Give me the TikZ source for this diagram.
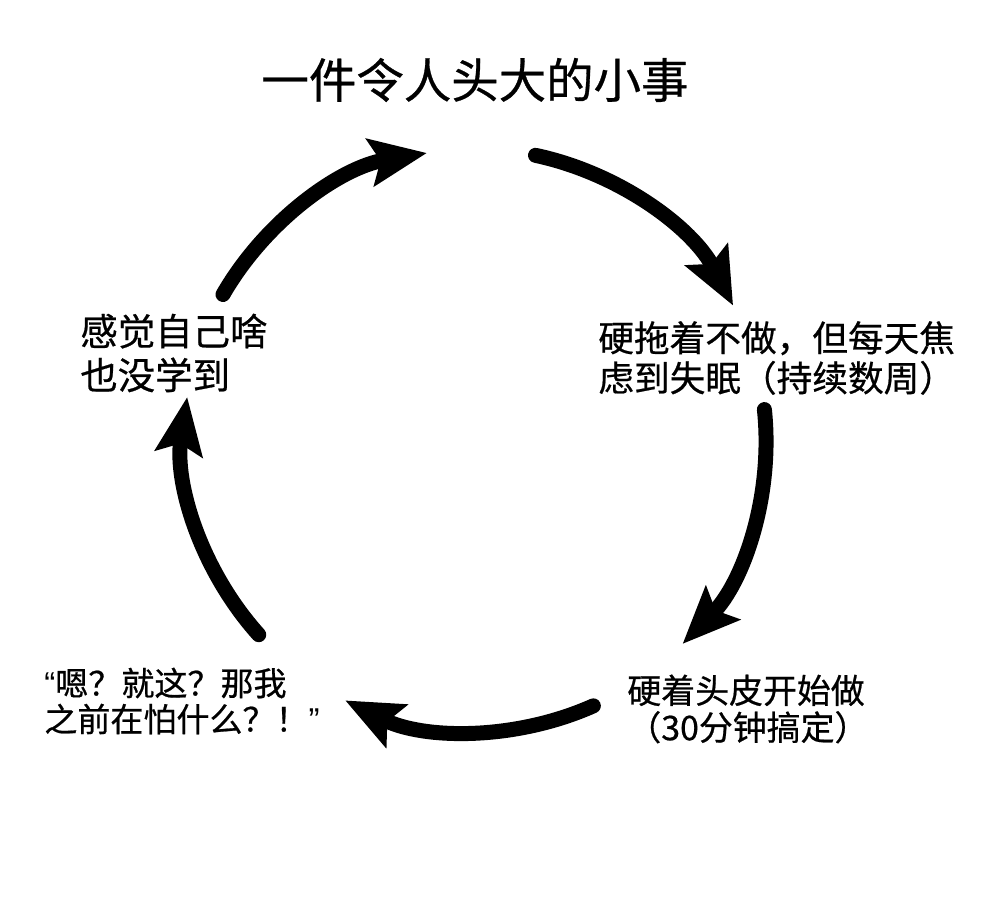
\documentclass[tikz,border=0pt]{standalone}
\usepackage{fontspec}
\newfontfamily\cjk[FakeBold=0.6]{Noto Sans CJK SC}
\newfontfamily\latinq{Liberation Sans}
\usetikzlibrary{arrows.meta,calc}
\tikzset{
  loop arrow/.style={line width=0.3cm, line cap=round,
    -{Stealth[length=1.14cm,width=0.94cm,inset=0.2cm]}},
  title text/.style={inner sep=0pt, font=\cjk\fontsize{27pt}{32pt}\selectfont},
  body text/.style={inner sep=0pt, anchor=west, align=left},
}
\begin{document}
\begin{tikzpicture}[x=0.02cm,y=0.02cm]
\fill[white] (0,0) rectangle (1000,902);
\useasboundingbox (0,0) rectangle (1000,902);

\coordinate (c) at (475,462);
% arrow tails
\coordinate (t1) at ($(c)+(150:291)$);
\coordinate (t2) at ($(c)+(78:291)$);
\coordinate (t3) at ($(c)+(6:291)$);
\coordinate (t4) at ($(c)+(-66:291)$);
\coordinate (t5) at ($(c)+(-138:291)$);

\node[title text] (title) at (475,822) {一件令人头大的小事};

\node[body text, font=\cjk\fontsize{20.3pt}{22.8pt}\selectfont] (procrast) at (598,544)
  {硬拖着不做，但每天焦\\虑到失眠（持续数周）};
\node[body text, font=\cjk\fontsize{19.3pt}{21pt}\selectfont] (doit) at (627,193)
  {硬着头皮开始做\\（30分钟搞定）};
\node[body text, font=\cjk\fontsize{18.8pt}{20.5pt}\selectfont] (huh) at (44,201)
  {{\latinq “}嗯？就这？那我\\之前在怕什么？！{\latinq ”}};
\node[body text, font=\cjk\fontsize{21.3pt}{25pt}\selectfont] (learn) at (80,549)
  {感觉自己啥\\也没学到};

\draw[loop arrow] (t1) arc[start angle=150, end angle=99.5, radius=291];
\draw[loop arrow] (t2) arc[start angle=78, end angle=27.5, radius=291];
\draw[loop arrow] (t3) arc[start angle=6, end angle=-44.5, radius=291];
\draw[loop arrow] (t4) arc[start angle=-66, end angle=-116.5, radius=291];
\draw[loop arrow] (t5) arc[start angle=-138, end angle=-188.5, radius=291];
\end{tikzpicture}
\end{document}
